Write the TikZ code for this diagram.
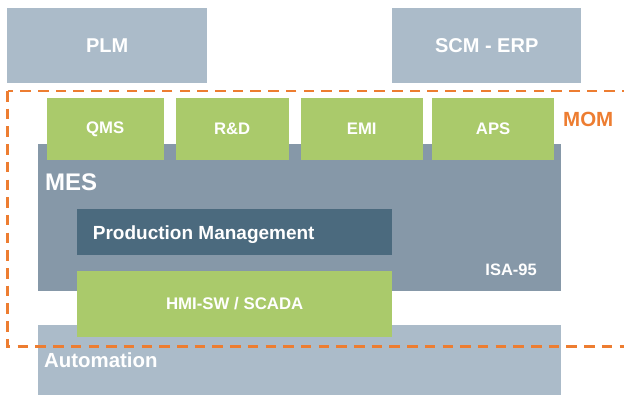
\documentclass[tikz,border=0pt]{standalone}
\usepackage{fontspec}
\setmainfont{Liberation Sans}
\usetikzlibrary{positioning}
\definecolor{ltblue}{HTML}{ABBBC9}
\definecolor{mesgrey}{HTML}{8698A8}
\definecolor{pmblue}{HTML}{4B6A7E}
\definecolor{lgreen}{HTML}{AACA6B}
\definecolor{momorange}{HTML}{ED7D31}
\newcommand{\fsz}[1]{\fontsize{#1}{#1}\selectfont\bfseries}
\tikzset{
    block/.style={draw=none, inner sep=0pt, text=white, anchor=north west},
    erpbox/.append style={block, fill=ltblue, minimum height=75pt, font=\fsz{20}},
    mombox/.append style={block, fill=lgreen, minimum width=119pt, minimum height=61.5pt, font=\fsz{16.7}},
    tag/.style={inner sep=0pt, text=white},
}

\begin{document}
\begin{tikzpicture}[x=1pt, y=-1pt]
    \clip (0,0) rectangle (624,394);

    % enterprise level
    \node[erpbox, minimum width=200pt] (plm) at (7,8) {PLM};
    \node[erpbox, minimum width=189pt] (scm) at (392,8) {SCM - ERP};

    % MES layer
    \node[block, fill=mesgrey, minimum width=523pt, minimum height=146.5pt] (mes) at (38,144) {};
    \node[tag, anchor=base west, font=\fsz{24}] (meslabel) at (45,190) {MES};
    \node[tag, anchor=base east, font=\fsz{16.5}] (isa) at (537,275.7) {ISA-95};

    \node[mombox, minimum width=117pt] (qms) at (46.5,98) {QMS};
    \node[mombox, minimum width=113pt, right=11.5pt of qms.north east, anchor=north west] (rd) {R\&D};
    \node[mombox, minimum width=121.5pt, right=12pt of rd.north east, anchor=north west] (emi) {EMI};
    \node[mombox, minimum width=121.5pt, right=9.5pt of emi.north east, anchor=north west] (aps) {APS};

    \node[block, fill=pmblue, minimum width=315pt, minimum height=46pt] (prodmgmt) at (77,209) {};
    \node[tag, anchor=base west, font=\fsz{19}] (pmlabel) at (92.7,239) {Production Management};

    % automation level
    \node[block, fill=ltblue, minimum width=523pt, minimum height=75pt] (automation) at (38,325) {};
    \node[tag, anchor=base west, font=\fsz{20.4}] (autolabel) at (44,367.3) {Automation};

    \node[block, fill=lgreen, minimum width=315pt, minimum height=66pt, font=\fsz{16.8}] (hmi) at (77,270.7) {HMI-SW / SCADA};

    % MOM frame
    \coordinate (momtl) at (7.5,91);
    \coordinate (mombr) at (640,346.3);
    \draw[momorange, line width=2.7pt, dash pattern=on 10.5pt off 7.2pt] (momtl) rectangle (mombr);
    \node[inner sep=0pt, text=momorange, anchor=base west, font=\fsz{20.5}] (mom) at (563,126.7) {MOM};
\end{tikzpicture}
\end{document}
